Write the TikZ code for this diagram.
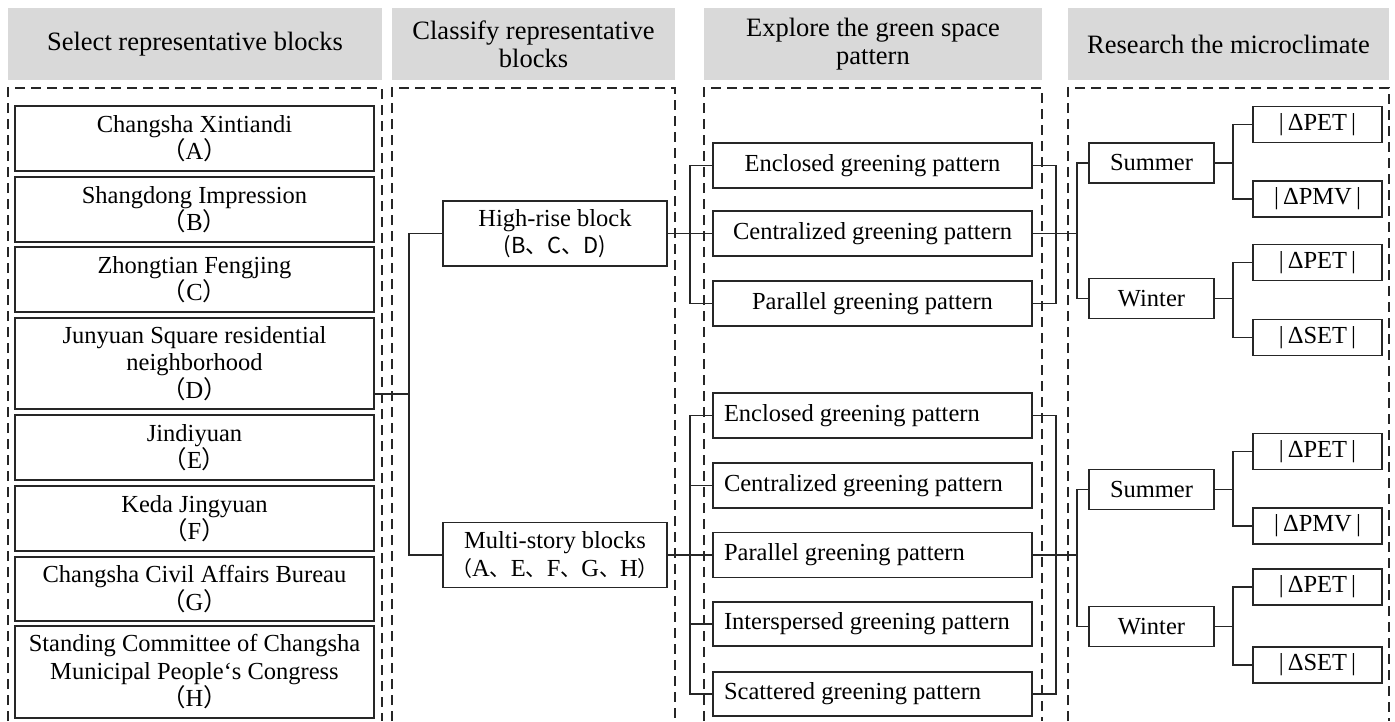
\documentclass[tikz,border=0pt]{standalone}
\usepackage{fontspec}
\setmainfont{Liberation Serif}
\newfontfamily\cjk{Noto Sans CJK SC}
\definecolor{headgray}{HTML}{D9D9D9}
\definecolor{inkgray}{HTML}{262626}
\begin{document}
\begin{tikzpicture}[x=1pt,y=-1pt,
      every node/.style={font=\fontsize{24.5}{27.5}\selectfont},
      box/.style={draw=inkgray, line width=1.6pt, rectangle, inner sep=0pt, align=center},
      head/.style={fill=headgray, inner sep=0pt, align=center, minimum height=72, font=\fontsize{26.5}{28}\selectfont},
      frame/.style={draw=inkgray, line width=1.3pt, dash pattern=on 10pt off 6pt},
      link/.style={draw=inkgray, line width=1.5pt}]
      \useasboundingbox (0,0) rectangle (1395,721);

      % column heads
      \node[head, minimum width=374] (hdSel) at (195,44) {Select representative blocks};
      \node[head, minimum width=283] (hdCls) at (533.5,44) {Classify representative\\blocks};
      \node[head, minimum width=338] (hdExp) at (873,44) {Explore the green space\\pattern};
      \node[head, minimum width=321] (hdRes) at (1228.5,44) {Research the microclimate};

      % dashed frames
      \draw[frame] (8,721) -- (8,88) -- (382,88) -- (382,721);
      \draw[frame] (392,721) -- (392,88) -- (675,88) -- (675,721);
      \draw[frame] (704,721) -- (704,88) -- (1042,88) -- (1042,721);
      \draw[frame] (1068,721) -- (1068,88) -- (1389,88) -- (1389,721);

      % representative blocks
      \node[box, minimum width=359, minimum height=65] (blkA) at (194.5,138.5) {Changsha Xintiandi\\{\cjk （}A{\cjk ）}};
      \node[box, minimum width=359, minimum height=65] (blkB) at (194.5,209.5) {Shangdong Impression\\{\cjk （}B{\cjk ）}};
      \node[box, minimum width=359, minimum height=65] (blkC) at (194.5,279.5) {Zhongtian Fengjing\\{\cjk （}C{\cjk ）}};
      \node[box, minimum width=359, minimum height=91] (blkD) at (194.5,363.5) {Junyuan Square residential\\neighborhood\\{\cjk （}D{\cjk ）}};
      \node[box, minimum width=359, minimum height=65] (blkE) at (194.5,447.5) {Jindiyuan\\{\cjk （}E{\cjk ）}};
      \node[box, minimum width=359, minimum height=65] (blkF) at (194.5,518.5) {Keda Jingyuan\\{\cjk （}F{\cjk ）}};
      \node[box, minimum width=359, minimum height=64] (blkG) at (194.5,589) {Changsha Civil Affairs Bureau\\{\cjk （}G{\cjk ）}};
      \node[box, minimum width=359, minimum height=92] (blkH) at (194.5,672) {Standing Committee of Changsha\\Municipal People‘s Congress\\{\cjk （}H{\cjk ）}};

      % block classes
      \node[box, minimum width=224, minimum height=65] (hirise) at (555,233.5) {High-rise block\\{\cjk\fontsize{22}{27.5}\selectfont (B、C、D)}};
      \node[box, minimum width=224, minimum height=65] (multi) at (555,555) {Multi-story blocks\\{\cjk\fontsize{21}{27.5}\selectfont （}A{\cjk\fontsize{21}{27.5}\selectfont 、}E{\cjk\fontsize{21}{27.5}\selectfont 、}F{\cjk\fontsize{21}{27.5}\selectfont 、}G{\cjk\fontsize{21}{27.5}\selectfont 、}H{\cjk\fontsize{21}{27.5}\selectfont ）}};

      % green space patterns
      \node[box, minimum width=319, minimum height=45] (enc1) at (872.5,165.5) {Enclosed greening pattern};
      \node[box, minimum width=319, minimum height=45] (cen1) at (872.5,233.5) {Centralized greening pattern};
      \node[box, minimum width=319, minimum height=45] (par1) at (872.5,303.5) {Parallel greening pattern};
      \node[box, text width=297, align=flush left, inner xsep=11, minimum height=45] (enc2) at (872.5,415.5) {Enclosed greening pattern};
      \node[box, text width=297, align=flush left, inner xsep=11, minimum height=45] (cen2) at (872.5,485.5) {Centralized greening pattern};
      \node[box, text width=297, align=flush left, inner xsep=11, minimum height=45] (par2) at (872.5,555) {Parallel greening pattern};
      \node[box, text width=297, align=flush left, inner xsep=11, minimum height=44] (int2) at (872.5,624) {Interspersed greening pattern};
      \node[box, text width=297, align=flush left, inner xsep=11, minimum height=44] (sca2) at (872.5,694) {Scattered greening pattern};

      % seasons
      \node[box, minimum width=125, minimum height=40] (sum1) at (1151.5,163) {Summer};
      \node[box, minimum width=125, minimum height=40] (win1) at (1151.5,298.5) {Winter};
      \node[box, minimum width=125, minimum height=40] (sum2) at (1151.5,489.5) {Summer};
      \node[box, minimum width=125, minimum height=40] (win2) at (1151.5,626.5) {Winter};

      % indices
      \node[box, minimum width=129, minimum height=36] (pet1) at (1317.5,124.5) {|\,ΔPET\,|};
      \node[box, minimum width=129, minimum height=36] (pmv1) at (1317.5,199) {|\,ΔPMV\,|};
      \node[box, minimum width=129, minimum height=36] (pet2) at (1317.5,262.5) {|\,ΔPET\,|};
      \node[box, minimum width=129, minimum height=36] (set1) at (1317.5,337.5) {|\,ΔSET\,|};
      \node[box, minimum width=129, minimum height=36] (pet3) at (1317.5,451.5) {|\,ΔPET\,|};
      \node[box, minimum width=129, minimum height=36] (pmv2) at (1317.5,526) {|\,ΔPMV\,|};
      \node[box, minimum width=129, minimum height=36] (pet4) at (1317.5,587) {|\,ΔPET\,|};
      \node[box, minimum width=129, minimum height=36] (set2) at (1317.5,665) {|\,ΔSET\,|};

      % junctions
      \coordinate (colR) at (374,394);
      \coordinate (jL) at (409,394);
      \coordinate (jH) at (690,233.5);
      \coordinate (jHR) at (1056,233.5);
      \coordinate (jS) at (1077,233.5);
      \coordinate (jM) at (690,555);
      \coordinate (jMR) at (1056,555);
      \coordinate (jS2) at (1077,555);
      \coordinate (jSu) at (1233,163);
      \coordinate (jWi) at (1233,298.5);
      \coordinate (jSu2) at (1233,489.5);
      \coordinate (jWi2) at (1233,626.5);

      % connectors
      \draw[link] (colR) -- (jL);
      \draw[link] (hirise.west) -| (jL) |- (multi.west);
      \draw[link] (hirise.east) -- (cen1.west);
      \draw[link] (enc1.west) -| (jH) |- (par1.west);
      \draw[link] (enc1.east) -| (jHR) |- (par1.east);
      \draw[link] (cen1.east) -- (jS);
      \draw[link] (sum1.west) -| (jS) |- (win1.west);
      \draw[link] (multi.east) -- (par2.west);
      \draw[link] (enc2.west) -| (jM) |- (sca2.west);
      \draw[link] (cen2.west) -- (cen2.west -| jM);
      \draw[link] (int2.west) -- (int2.west -| jM);
      \draw[link] (enc2.east) -| (jMR) |- (sca2.east);
      \draw[link] (par2.east) -- (jS2);
      \draw[link] (sum2.west) -| (jS2) |- (win2.west);
      \draw[link] (sum1.east) -- (jSu);
      \draw[link] (pet1.west) -| (jSu) |- (pmv1.west);
      \draw[link] (win1.east) -- (jWi);
      \draw[link] (pet2.west) -| (jWi) |- (set1.west);
      \draw[link] (sum2.east) -- (jSu2);
      \draw[link] (pet3.west) -| (jSu2) |- (pmv2.west);
      \draw[link] (win2.east) -- (jWi2);
      \draw[link] (pet4.west) -| (jWi2) |- (set2.west);

    \end{tikzpicture}
\end{document}
